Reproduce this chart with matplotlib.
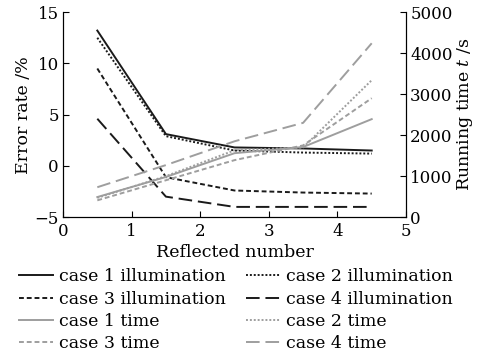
import matplotlib
matplotlib.use("Agg")
import matplotlib.pyplot as plt

plt.rcParams['font.family'] = ['DejaVu Serif']
plt.rcParams['mathtext.fontset'] = 'dejavuserif'

x = [0.5, 1.5, 2.5, 3.5, 4.5]
c1_ill = [13.2, 3.1, 1.8, 1.7, 1.5]
c2_ill = [12.5, 2.9, 1.5, 1.3, 1.2]
c3_ill = [9.5, -1.1, -2.4, -2.6, -2.7]
c4_ill = [4.6, -3.0, -4.0, -4.0, -4.0]
c1_time = [490, 980, 1560, 1710, 2390]
c2_time = [470, 1000, 1630, 1700, 3340]
c3_time = [410, 900, 1390, 1750, 2900]
c4_time = [730, 1270, 1850, 2300, 4240]

fig = plt.figure(figsize=(4.9, 3.56), dpi=100)
ax = fig.add_axes([0.1286, 0.390, 0.70, 0.576])
ax2 = ax.twinx()

dark = '#1a1a1a'
gray = '#9e9e9e'
lw = 1.4
h1, = ax.plot(x, c1_ill, color=dark, lw=lw, ls='-')
h2, = ax.plot(x, c2_ill, color=dark, lw=lw, ls=(0, (1, 1)))
h3, = ax.plot(x, c3_ill, color=dark, lw=lw, ls=(0, (2.5, 1.5)))
h4, = ax.plot(x, c4_ill, color=dark, lw=lw, ls=(0, (7, 3)))
h5, = ax2.plot(x, c1_time, color=gray, lw=lw, ls='-')
h6, = ax2.plot(x, c2_time, color=gray, lw=lw, ls=(0, (1, 1)))
h7, = ax2.plot(x, c3_time, color=gray, lw=lw, ls=(0, (2.5, 1.5)))
h8, = ax2.plot(x, c4_time, color=gray, lw=lw, ls=(0, (7, 3)))

ax.set_xlim(0, 5)
ax.set_ylim(-5, 15)
ax2.set_ylim(0, 5000)
ax.set_xticks([0, 1, 2, 3, 4, 5])
ax.set_yticks([-5, 0, 5, 10, 15])
ax2.set_yticks([0, 1000, 2000, 3000, 4000, 5000])
ax.set_yticklabels(['\u22125', '0', '5', '10', '15'])

fs = 12
for a in (ax, ax2):
    a.spines['top'].set_visible(False)
    a.tick_params(direction='in', labelsize=fs, length=4, width=0.8, pad=3)
ax.tick_params(axis='x', pad=4)
ax.set_xlabel('Reflected number', fontsize=12.5, labelpad=3)
ax.set_ylabel('Error rate /%', fontsize=12.5, labelpad=2)
ax2.set_ylabel('Running time $t$ /s', fontsize=12.5, labelpad=2)

handles = [h1, h3, h5, h7, h2, h4, h6, h8]
labels = ['case 1 illumination', 'case 3 illumination', 'case 1 time', 'case 3 time',
          'case 2 illumination', 'case 4 illumination', 'case 2 time', 'case 4 time']
fig.legend(handles, labels, ncol=2, loc='upper left', bbox_to_anchor=(0.038, 0.246),
           frameon=False, fontsize=12.5, handlelength=2.0, handletextpad=0.3,
           columnspacing=1.2, labelspacing=0.3, borderpad=0, borderaxespad=0)

fig.savefig('out.png', dpi=100)
